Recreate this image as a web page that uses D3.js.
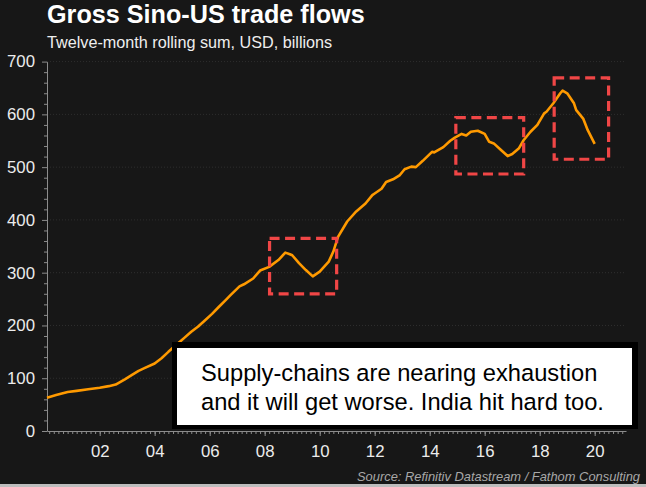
<!DOCTYPE html>
<html>
<head>
<meta charset="utf-8">
<script src="https://cdn.jsdelivr.net/npm/d3@7"></script>
<style>
  html, body { margin: 0; padding: 0; background: #171717; }
  svg { display: block; font-family: "Liberation Sans", Arial, sans-serif; }
</style>
</head>
<body>
<svg id="chart" width="646" height="487"></svg>
<script>
// twelve-month rolling sum, USD bn
var months = [
    "2000-02", "2000-06", "2000-11", "2001-03", "2001-08", "2002-01", "2002-05", "2002-08",
    "2002-12", "2003-03", "2003-06", "2003-09", "2004-01", "2004-04", "2004-07", "2004-12",
    "2005-02", "2005-05", "2005-08", "2005-11", "2006-02", "2006-05", "2006-08", "2006-10",
    "2007-02", "2007-04", "2007-08", "2007-11", "2008-03", "2008-07", "2008-10", "2008-12",
    "2009-01", "2009-04", "2009-07", "2009-10", "2010-01", "2010-05", "2010-07", "2010-09",
    "2011-01", "2011-05", "2011-09", "2011-12", "2012-01", "2012-04", "2012-06", "2012-09",
    "2012-12", "2013-02", "2013-05", "2013-07", "2013-10", "2014-02", "2014-03", "2014-07",
    "2014-10", "2014-12", "2015-03", "2015-05", "2015-07", "2015-10", "2016-01", "2016-03",
    "2016-05", "2016-08", "2016-11", "2017-01", "2017-04", "2017-06", "2017-09", "2017-12",
    "2018-03", "2018-04", "2018-07", "2018-10", "2018-11", "2019-01", "2019-04", "2019-05",
    "2019-08", "2019-10", "2020-01"
];
var tradeFlows = [
    63, 68, 74, 76, 79, 82, 85, 88,
    98, 106, 114, 120, 128, 138, 150, 169,
    177, 188, 198, 210, 222, 235, 248, 257,
    274, 278, 289, 304, 311, 324, 338, 335,
    333, 318, 305, 293, 302, 321, 340, 368,
    397, 416, 431, 447, 450, 459, 472, 477,
    485, 496, 501, 500, 512, 529, 528, 538,
    550, 556, 563, 560, 567, 569, 563, 548,
    545, 533, 521, 525, 536, 551, 567, 580,
    602, 605, 621, 640, 645, 640, 621, 608,
    592, 570, 544
];

// highlighted episodes
var boxStart = ["2008-03-06", "2014-12-14", "2018-07-12"];
var boxEnd   = ["2010-08-14", "2017-06-02", "2020-07-04"];
var boxLow   = [260, 487, 515];
var boxHigh  = [365, 594, 669];

var yearTicks = [2002, 2004, 2006, 2008, 2010, 2012, 2014, 2016, 2018, 2020];
var valueTicks = [0, 100, 200, 300, 400, 500, 600, 700];

var title = "Gross Sino-US trade flows";
var subtitle = "Twelve-month rolling sum, USD, billions";
var source = "Source: Refinitiv Datastream / Fathom Consulting";
var note = ["Supply-chains are nearing exhaustion", "and it will get worse. India hit hard too."];


var parseDay = d3.timeParse("%Y-%m-%d");
var parseMonth = d3.timeParse("%Y-%m");

var data = months.map(function (m, i) {
    return { date: parseMonth(m), value: tradeFlows[i] };
});

var svg = d3.select("#chart");
var plotLeft = 47, plotRight = 626, plotTop = 61.6, plotBottom = 431;

var x = d3.scaleTime()
    .domain([new Date(2000, 1, 1), new Date(2021, 1, 20)])
    .range([plotLeft, plotRight]);
var y = d3.scaleLinear()
    .domain([0, 700])
    .range([plotBottom, plotTop]);

// grid
svg.append("g")
    .selectAll("line")
    .data(valueTicks.slice(1))
    .enter()
    .append("line")
    .attr("x1", plotLeft)
    .attr("x2", plotRight)
    .attr("y1", function (d) { return y(d); })
    .attr("y2", function (d) { return y(d); })
    .attr("stroke", "#2e2e2e")
    .attr("stroke-dasharray", "1,2");

// minor ticks
var minorY = d3.range(0, 701, 20).filter(function (d) { return d % 100 !== 0; });
svg.append("g")
    .attr("transform", "translate(" + plotLeft + ",0)")
    .call(d3.axisLeft(y).tickValues(minorY).tickSize(3).tickFormat(""))
    .call(function (g) { g.select(".domain").remove(); });

var minorX = d3.timeMonth.every(2).range(new Date(2000, 2, 1), new Date(2021, 2, 1))
    .filter(function (d) { return x(d) <= plotRight; });
svg.append("g")
    .attr("transform", "translate(0," + plotBottom + ")")
    .call(d3.axisBottom(x).tickValues(minorX).tickSize(3).tickFormat(""))
    .call(function (g) { g.select(".domain").remove(); });

// main axes
var yAxis = svg.append("g")
    .attr("transform", "translate(" + plotLeft + ",0)")
    .call(d3.axisLeft(y).tickValues(valueTicks).tickSize(5).tickPadding(7).tickSizeOuter(0));

var xAxis = svg.append("g")
    .attr("transform", "translate(0," + plotBottom + ")")
    .call(d3.axisBottom(x)
        .tickValues(yearTicks.map(function (yr) { return new Date(yr, 0, 1); }))
        .tickFormat(d3.timeFormat("%y"))
        .tickSize(5).tickPadding(9).tickSizeOuter(0));

svg.selectAll(".tick line, .domain").attr("stroke", "#8c8c8c");
[yAxis, xAxis].forEach(function (g) {
    g.selectAll("text")
        .attr("fill", "#ececec")
        .style("font-size", "16.8px")
        .style("font-family", "'Liberation Sans', Arial, sans-serif");
});

// line
var line = d3.line()
    .x(function (d) { return x(d.date); })
    .y(function (d) { return y(d.value); });

svg.append("path")
    .datum(data)
    .attr("d", line)
    .attr("fill", "none")
    .attr("stroke", "#ff9a00")
    .attr("stroke-width", 2.6)
    .attr("stroke-linejoin", "round");

// red dashed boxes
svg.append("g")
    .selectAll("rect")
    .data(d3.range(boxStart.length))
    .enter()
    .append("rect")
    .attr("x", function (i) { return x(parseDay(boxStart[i])); })
    .attr("y", function (i) { return y(boxHigh[i]); })
    .attr("width", function (i) { return x(parseDay(boxEnd[i])) - x(parseDay(boxStart[i])); })
    .attr("height", function (i) { return y(boxLow[i]) - y(boxHigh[i]); })
    .attr("fill", "none")
    .attr("stroke", "#f04646")
    .attr("stroke-width", 3.2)
    .attr("stroke-dasharray", "10,5.5");

// titles
svg.append("text")
    .attr("x", 47).attr("y", 23)
    .attr("fill", "#ffffff")
    .style("font-size", "25.2px")
    .style("font-weight", "bold")
    .text(title);

svg.append("text")
    .attr("x", 47).attr("y", 48)
    .attr("fill", "#eeeeee")
    .style("font-size", "16.2px")
    .text(subtitle);

svg.append("text")
    .attr("x", 640).attr("y", 481)
    .attr("text-anchor", "end")
    .attr("fill", "#a8a8a8")
    .style("font-size", "12.9px")
    .style("font-style", "italic")
    .text(source);

svg.append("rect")
    .attr("x", 0).attr("y", 484)
    .attr("width", 646).attr("height", 3)
    .attr("fill", "#bdbdbd");

// note box
svg.append("rect")
    .attr("x", 172).attr("y", 342)
    .attr("width", 466).attr("height", 87)
    .attr("fill", "#000000");
svg.append("rect")
    .attr("x", 177).attr("y", 348)
    .attr("width", 455).attr("height", 77)
    .attr("fill", "#ffffff");

svg.append("g")
    .selectAll("text")
    .data(note)
    .enter()
    .append("text")
    .attr("x", 201)
    .attr("y", function (d, i) { return 381 + i * 28.5; })
    .attr("fill", "#000000")
    .style("font-size", "23.7px")
    .text(String);
</script>
</body>
</html>
